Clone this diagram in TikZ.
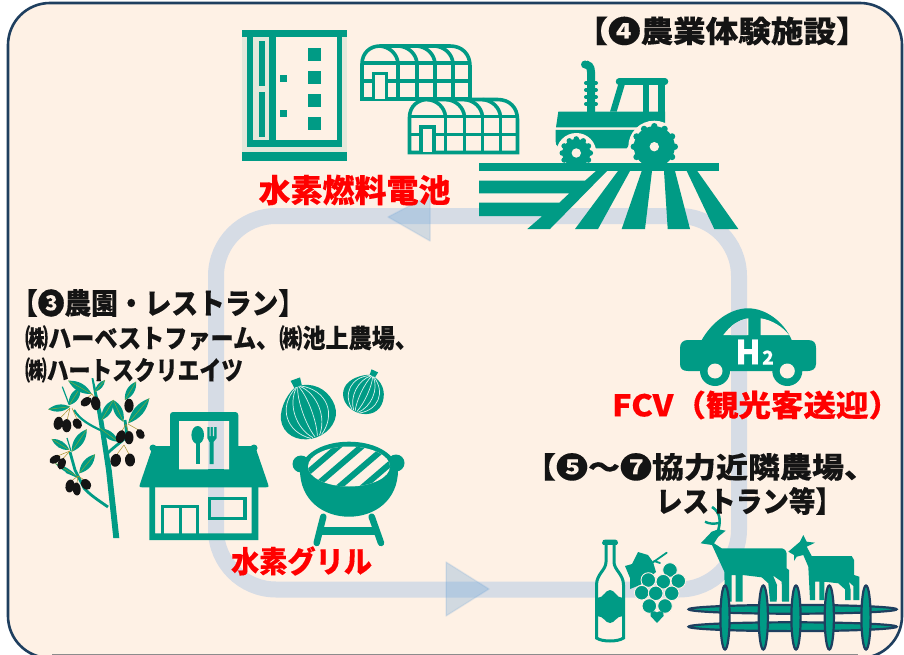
\documentclass[tikz,border=0pt]{standalone}
\usepackage{graphicx}
\usepackage{fontspec}
\newfontfamily\jp{Noto Sans CJK JP}[BoldFeatures={FakeBold=0.25}]
\definecolor{tealc}{HTML}{009B85}
\definecolor{bgc}{HTML}{FEF1E5}
\definecolor{navyc}{HTML}{1F3F5F}
\definecolor{bandc}{HTML}{D6DCE5}
\definecolor{midrib}{HTML}{7FA83A}
\definecolor{goldc}{HTML}{A8902A}
\definecolor{headc}{HTML}{5B9BD5}
\tikzset{
  lab/.style={inner sep=0pt,outer sep=0pt,font=\jp\bfseries\fontsize{#1}{#1}\selectfont},
  redlab/.style={lab=#1,text=red},
  blacklab/.style={lab=#1,text=black!92},
  ghline/.style={draw=tealc,line width=3.6pt,line join=miter},
  tealfill/.style={fill=tealc,draw=none},
  headtri/.style={fill=headc,fill opacity=.27,draw=headc,draw opacity=.15,line width=1.5pt,line join=round},
  olive/.style={fill=black!92,draw=none},
  railc/.style={fill=tealc,draw=navyc,line width=2.2pt},
}
\newcommand{\fitw}[2]{\resizebox{#1pt}{\height}{#2}}
\newcommand{\greenhouse}[2]{%
  \begin{scope}[shift={(#1,#2)}]
    \draw[ghline] (2,55) -- (2,20) .. controls (2,9) and (10,2) .. (20,2) -- (90,2) .. controls (102,2) and (110,10) .. (110,22) -- (110,55) -- cycle;
    \draw[ghline] (2,19) -- (110,19) (2,37) -- (110,37);
    \foreach \vx in {38,57,75,93} {\draw[ghline] (\vx,19) -- (\vx,55);}
    \draw[ghline] (38,19) .. controls (37,10) and (30,3) .. (20,2);
    \draw[ghline] (57,19) .. controls (56,10) and (49,3) .. (39,2);
    \draw[ghline] (75,19) .. controls (74,10) and (67,3) .. (57,2);
    \draw[ghline] (93,19) .. controls (92,10) and (85,3) .. (75,2);
    \filldraw[ghline,fill=bgc] (13.5,55) -- (13.5,29.5) -- (26.5,29.5) -- (26.5,55);
  \end{scope}}
\newcommand{\oleaf}[3]{%
  \fill[tealc] (#1) to[bend left=#3] (#2) to[bend left=#3] (#1);
  \draw[midrib,line width=.5pt] (#1) -- (#2);}
\newcommand{\onion}[4]{%
  \begin{scope}[shift={(#1,#2)},rotate=#3,scale=#4]
    \fill[tealc] (-5,-35) -- (5,-35) -- (4,-27) .. controls (20,-24) and (28,-10) .. (28,3) .. controls (28,18) and (14,27) .. (0,27) .. controls (-14,27) and (-28,18) .. (-28,3) .. controls (-28,-10) and (-14,-23) .. (-4,-27) -- cycle;
    \foreach \k in {-23,-14,-5,5,14,23} {
      \draw[draw=white!85!tealc,line width=.7pt] (\k*0.1,-27) .. controls (\k*1.15,-14) and (\k*1.15,12) .. (\k*0.25,26);}
  \end{scope}}
\newcommand{\cogwheel}[4]{%
  \fill[tealc] (#1,#2) circle (#3);
  \foreach \a in {0,30,...,330} {\fill[tealc] (#1,#2) ++(\a:#3) circle (#4);}
  \fill[bgc] (#1,#2) circle (4.7);}
\begin{document}
\begin{tikzpicture}[x=1pt,y=-1pt]
\useasboundingbox (0,0) rectangle (904,655);
\fill[white] (0,0) rectangle (904,655);
% panel
\draw[fill=bgc,draw=navyc,line width=2.6pt,rounded corners=42pt] (8,3) rectangle (902,658);
\draw[black!45,line width=1pt] (52,654.5) -- (858,654.5);
% loop
\draw[bandc,line width=16pt,rounded corners=60pt] (216,216) rectangle (739,589.5);
\draw[headtri] (388,217) -- (430,195) -- (430,241) -- cycle;
\draw[headtri] (489,589) -- (446,562) -- (446,616) -- cycle;
% building
\fill[tealc!10!bgc] (242,36) rectangle (347,152);
\fill[bgc] (276,36) rectangle (337,140);
\fill[tealc] (242,30) rectangle (347,36.7);
\fill[tealc] (242,152) rectangle (347,161);
\fill[tealc] (247.3,36) rectangle (253.3,147.3);
\fill[tealc] (269.3,36) rectangle (276,147.3);
\fill[tealc] (336.7,36) rectangle (342.3,147.3);
\fill[tealc] (247.3,140) rectangle (342.3,147.3);
\fill[tealc] (258.7,41) rectangle (265.3,85.7);
\fill[tealc] (258.7,92) rectangle (265.3,136.7);
\foreach \sy in {48.3,71.3,94.3,117.3} {\fill[tealc] (308,\sy) rectangle ++(13.3,12.4);}
\foreach \sy in {75,109.7} {\fill[tealc] (279.7,\sy) rectangle ++(7.3,7);}
% greenhouses
\greenhouse{360}{44}
\greenhouse{407.5}{97.5}
% tractor
\fill[tealc] (558.3,111.7) -- (665,111.7) -- (665,127.3) -- (556,127.3) -- cycle;
\fill[tealc] (555.7,130) -- (640,130) -- (626.7,148.3) -- (566,148.3) .. controls (558,148) and (555.7,146) .. (555.7,141.7) -- cycle;
\draw[tealc,line width=6.5pt,line cap=round] (619,81.7) -- (665,81.7);
\fill[tealc] (618.3,84) -- (625,84) -- (616.7,111.7) -- (610,111.7) -- cycle;
\fill[tealc] (642.7,84) rectangle (649,112);
\fill[tealc] (657.7,84) rectangle (665,112);
\draw[tealc,line width=8pt] (591,112) -- (591,72) .. controls (591,66) and (588,65) .. (585.5,64);
\fill[tealc] (585,64.5) circle (4);
\foreach \fy in {83,90,97,104} {\draw[tealc,line width=4pt,line cap=round] (586,\fy) -- (596,\fy);}
\fill[bgc] (654.3,146.7) circle (26);
\fill[bgc] (576.3,153) circle (20);
\cogwheel{654.3}{146.7}{20.5}{3.2}
\cogwheel{576.3}{153}{14}{2.8}
% field
\fill[tealc] (479,162.7) rectangle (719.3,171.5);
\fill[tealc] (479,180.7) -- (585,180.7) -- (596,171) -- (607,171) -- (550,229) -- (527.3,229) -- (542.3,216) -- (479,216) -- (479,202.7) -- (559.3,202.7) -- (569.3,193.3) -- (479,193.3) -- cycle;
\fill[tealc] (618,171) -- (630,171) -- (598,229) -- (575,229) -- cycle;
\fill[tealc] (641.7,171) -- (652,171) -- (645,229) -- (621.7,229) -- cycle;
\fill[tealc] (664,171) -- (675,171) -- (690,229) -- (667.7,229) -- cycle;
\fill[tealc] (686.7,171) -- (697.3,171) -- (738.3,229) -- (714.3,229) -- cycle;
% car
\fill[tealc] (688,340) -- (701.7,340) .. controls (712,322) and (730,308.3) .. (748,308.3) .. controls (766,308.3) and (784,322) .. (791.7,340) -- (808,340) .. controls (814,340) and (816,343) .. (816,348) -- (816,364) .. controls (816,369) and (812,371) .. (808,371) -- (688,371) .. controls (683,371) and (680,369) .. (680,364) -- (680,348) .. controls (680,343) and (683,340) .. (688,340) -- cycle;
\fill[tealc] (715,371) circle (15) (787.3,371) circle (15);
\fill[bgc] (715,371) circle (7.5) (787.3,371) circle (7.5);
\fill[bgc] (723.3,335) .. controls (730,326) and (738,320) .. (748.3,318.3) -- (748.3,335) -- cycle;
\begin{scope}
  \clip (723.3,335) .. controls (730,326) and (738,320) .. (748.3,318.3) -- (748.3,335) -- cycle;
  \fill[bandc] (731,310) rectangle (747,340);
\end{scope}
\fill[bgc] (760.7,335) -- (760.7,318.3) .. controls (772,320) and (783,327) .. (789,335) -- cycle;
\node[inner sep=0pt,font=\jp\bfseries\fontsize{33}{33}\selectfont,text=white] (htwoh) at (748,352) {H};
\node[inner sep=0pt,font=\jp\bfseries\fontsize{19}{19}\selectfont,text=white] (htwot) at (768,357.5) {2};
% olive tree
\fill[tealc] (113.3,538) -- (119.3,538) -- (111.7,470) -- (103.3,420) -- (93.3,378) -- (91.5,378) -- (98.5,420) -- (106,470) -- cycle;
\draw[tealc,line width=2.8pt] (108,507) .. controls (98,500) and (90,495) .. (84,488) -- (75,470) -- (70,452);
\draw[tealc,line width=2.8pt] (106,455) .. controls (112,448) and (122,442) .. (127,436) -- (125,420);
\draw[tealc,line width=2.2pt] (100,430) .. controls (90,425) and (80,420) .. (74,410);
\draw[tealc,line width=1.8pt] (66,472) -- (80,478);
\oleaf{48.3,409.3}{70,406.7}{33}
\oleaf{69.3,405}{80,388}{45}
\oleaf{68.3,380.7}{91.7,394}{32}
\oleaf{95,391.7}{105,380}{35}
\oleaf{125,400}{136,381.7}{37}
\oleaf{128.3,423.3}{149.3,398.3}{30}
\oleaf{123.3,421.7}{113.3,400}{37}
\oleaf{113.3,400}{101.7,420}{37}
\oleaf{100,428.3}{118.3,441.7}{34}
\oleaf{71.7,451.7}{86.7,429.3}{35}
\oleaf{51.7,439}{69.3,450}{35}
\oleaf{79.3,473.3}{95,454.3}{37}
\oleaf{55,463.3}{76.7,476}{16}
\draw[tealc,line width=1.2pt] (62.3,386.7) -- (69.3,405);
\draw[tealc,line width=1.2pt] (67,438) -- (71,451);
\draw[goldc,line width=.5pt] (70,408) -- (58.3,420) (70,408) -- (66.7,422) (72,408) -- (77.3,420);
\draw[goldc,line width=.5pt] (92,394) -- (86,399) (92,394) -- (95.7,400);
\draw[goldc,line width=.5pt] (126,424) -- (120.7,433) (126,424) -- (129,434) (128,424) -- (140.3,431);
\draw[goldc,line width=.5pt] (124,445) -- (115.7,456) (124,445) -- (130,456);
\draw[goldc,line width=.5pt] (70,451) -- (55,457) (70,451) -- (61.7,460);
\draw[goldc,line width=.5pt] (78,476) -- (70,482) (78,476) -- (76.7,485) (78,476) -- (86,481);
\foreach \ox/\oy/\orx/\ory/\orot in {58.3/423.3/4.6/6.6/-10, 66.7/425.7/4.6/6.6/0, 77.3/423.7/4.4/5.6/30, 86/401.7/4/6/-55, 95.7/403.3/4.7/7/10, 129/405.7/4.6/7/0, 120.7/436.7/4.5/6.6/-20, 129/437.7/4.5/6.6/0, 140.3/434/4/5.4/30, 115.7/460.3/5.2/6.5/-15, 130/460/5/6.5/5, 55/459.3/3.7/6/-60, 61.7/463.7/3.9/6/-20, 70/486/4.5/6.5/-10, 76.7/489/4/6.5/5, 86/484.3/4.5/6/40} {
  \fill[olive] (\ox,\oy) ellipse[x radius=\orx,y radius=\ory,rotate=\orot];}
% restaurant
\fill[tealc,even odd rule,rounded corners=3pt] (170,412) rectangle (238.3,460) (179,421) rectangle (229,469.3);
\fill[tealc] (170,446) -- (153,446) -- (140,484) .. controls (139,486) and (139,487.3) .. (142,487.3) -- (266,487.3) .. controls (269,487.3) and (269,486) .. (268,484) -- (255,446) -- cycle;
\fill[tealc] (153,448) circle (3.5) (254,448) circle (3.5);
\fill[bandc] (208,421) rectangle (224,469.3);
\fill[bgc] (179,421) rectangle (208,469.3) (224,421) rectangle (229,469.3);
\fill[tealc] (197.7,435) ellipse[x radius=6.3,y radius=9];
\fill[tealc] (195.7,440) rectangle (200,464);
\fill[tealc] (207.3,427) -- (216.7,427) -- (216.7,438) -- (213.5,442) -- (213.5,464) -- (209.5,464) -- (209.5,442) -- (207.3,438) -- cycle;
\fill[bandc] (209.5,427) rectangle (210.7,436) (212.9,427) rectangle (214.2,436);
\fill[tealc] (149.3,487) rectangle (155,540) (251.7,487) rectangle (258.3,540) (149.3,533.3) rectangle (258.3,540);
\draw[tealc,line width=3.4pt] (209.4,498.4) rectangle (245,518.3);
\draw[tealc,line width=3.4pt] (162.7,534) -- (162.7,506.7) -- (197.6,506.7) -- (197.6,534);
\draw[tealc,line width=3.4pt] (180.3,506.7) -- (180.3,534);
% onions
\onion{307.3}{412}{20}{1}
\onion{364}{394}{-25}{.73}
% grill
\fill[tealc] (301,464) circle (8.5) (396,463) circle (8.5);
\fill[tealc] (300,470) .. controls (303,452) and (325,441.7) .. (349,441.7) .. controls (373,441.7) and (395,452) .. (398,470) .. controls (398,500) and (375,516.7) .. (349,516.7) .. controls (323,516.7) and (300,500) .. (300,470) -- cycle;
\begin{scope}
  \clip (349,466.5) ellipse[x radius=41,y radius=20];
  \fill[bgc] (300,440) rectangle (400,490);
  \foreach \bx in {316,339.5,364,388} {
    \draw[tealc,line width=6pt] (\bx-35,465.5+30) -- (\bx+35,465.5-30);}
\end{scope}
\draw[tealc,line width=6.5pt,line cap=round] (323.3,516.7) -- (316.7,543);
\draw[tealc,line width=6.5pt,line cap=round] (371.7,516.7) -- (381,543);
\draw[tealc,line width=8pt] (322,531) -- (376,531);
% bottle
\fill[tealc] (602,543) .. controls (602,540) and (604,539.5) .. (606,539.5) -- (615,539.5) .. controls (617,539.5) and (618,541) .. (618,543) .. controls (618,545) and (616,545) .. (615,545) -- (605,545) .. controls (604,545) and (602,545) .. (602,543) -- cycle;
\draw[tealc,line width=3pt,fill=bgc] (606,545) -- (606,562) .. controls (606,570) and (596.5,574) .. (596.5,585) -- (596.5,638) .. controls (602,642) and (618,642) .. (623.5,638) -- (623.5,585) .. controls (623.5,574) and (614,570) .. (614,562) -- (614,545);
\fill[tealc] (597,598) .. controls (604,598) and (605,590) .. (610,590) .. controls (615,590) and (616,598) .. (623,598) -- (623,616) .. controls (616,616) and (615,623) .. (610,623) .. controls (605,623) and (604,616) .. (597,616) -- cycle;
% grapes
\fill[tealc] (625,566) -- (632,564) -- (638,552) -- (648,555) -- (653,562) -- (656,572) -- (640,585) -- (630,589) -- (630,578) -- cycle;
\draw[tealc,line width=1.8pt,line cap=round] (652,563) -- (666.7,552.7) (654,561) -- (660,563);
\foreach \gx/\gy in {670/570,648.3/580,663.3/581.7,678.3/581,641.7/592.7,655.7/593.3,671.7/593.3,649.3/606,665/606} {\filldraw[fill=tealc,draw=bgc,line width=.9pt] (\gx,\gy) circle (7.3);}
\fill[tealc] (657,623) -- (650.5,616) .. controls (649,611) and (654.5,610) .. (657,612.5) .. controls (659.5,610) and (665,611) .. (663.5,616) -- cycle;
% deer
\draw[tealc,line width=2.6pt] (718.3,530) .. controls (721,520) and (720,512) .. (712,507);
\draw[tealc,line width=2.4pt] (705,521.7) .. controls (709,524) and (714,524) .. (719,523);
\fill[tealc] (700.7,543.3) -- (711.7,531.7) -- (718.3,529.3) -- (725.7,530.7) -- (718.3,536.7) -- (714,543.3) -- (721.7,548.3) -- (781.7,548.3) .. controls (785,549) and (786.7,551) .. (786.7,555) -- (786.7,568.3) -- (789,570) -- (789,601.7) -- (782,601.7) -- (781.7,581.7) -- (773,575.5) -- (777,585) -- (776.7,601.7) -- (770,601.7) -- (768.3,583.3) -- (761.7,577.3) -- (742.7,575) -- (742.7,601.7) -- (735.7,601.7) -- (735.7,575) -- (731.7,575) -- (731.7,601.7) -- (725,601.7) -- (724.3,571.7) -- (712,545) -- cycle;
% goat
\fill[tealc] (788.3,551.7) -- (800,541.7) -- (803.3,535) -- (806.7,541.7) -- (815,542.7) -- (806.7,546.7) -- (811.7,556) -- (851.7,556) -- (854,560) -- (854,575) -- (859.3,576.7) -- (859.3,600) -- (853.3,600) -- (853.3,586) -- (849,582) -- (850.7,590) -- (850.7,600) -- (845,600) -- (845,589.3) -- (838.3,583.3) -- (824.3,581.7) -- (824.3,600) -- (819.3,600) -- (819.3,581.7) -- (815,581.7) -- (815,600) -- (810,600) -- (808.3,566.7) -- (803.3,555) -- (796.7,556.7) -- (794,561) -- (794,555) -- cycle;
% fence
\draw[railc] (792.6,609.3) ellipse[x radius=104,y radius=4.4];
\draw[railc] (792.6,626.7) ellipse[x radius=104,y radius=4.4];
\foreach \px in {725,763.3,796,829.3,866} {\draw[railc] (\px,617.5) ellipse[x radius=4.6,y radius=32];}
% labels
\node[blacklab=30] (t4) at (722,31) {\fitw{293}{【❹農業体験施設】}};
\node[redlab=32] (fuelcell) at (354.5,190) {\fitw{192}{水素燃料電池}};
\node[blacklab=29] (t3a) at (158,303) {\fitw{294}{【❸農園・レストラン】}};
\node[blacklab=26,anchor=west] (t3b) at (25,338) {\fitw{393}{㈱ハーベストファーム、㈱池上農場、}};
\node[blacklab=26,anchor=west] (t3c) at (25,370) {\fitw{218}{㈱ハートスクリエイツ}};
\node[redlab=30] (fcv) at (756.5,405) {\fitw{289}{FCV（観光客送迎）}};
\node[blacklab=29] (t5a) at (700,467) {\fitw{352}{【❺～❼協力近隣農場、}};
\node[blacklab=29] (t5b) at (749,501) {\fitw{186}{レストラン等】}};
\node[redlab=30] (grill) at (301.5,561) {\fitw{141}{水素グリル}};
\end{tikzpicture}
\end{document}
